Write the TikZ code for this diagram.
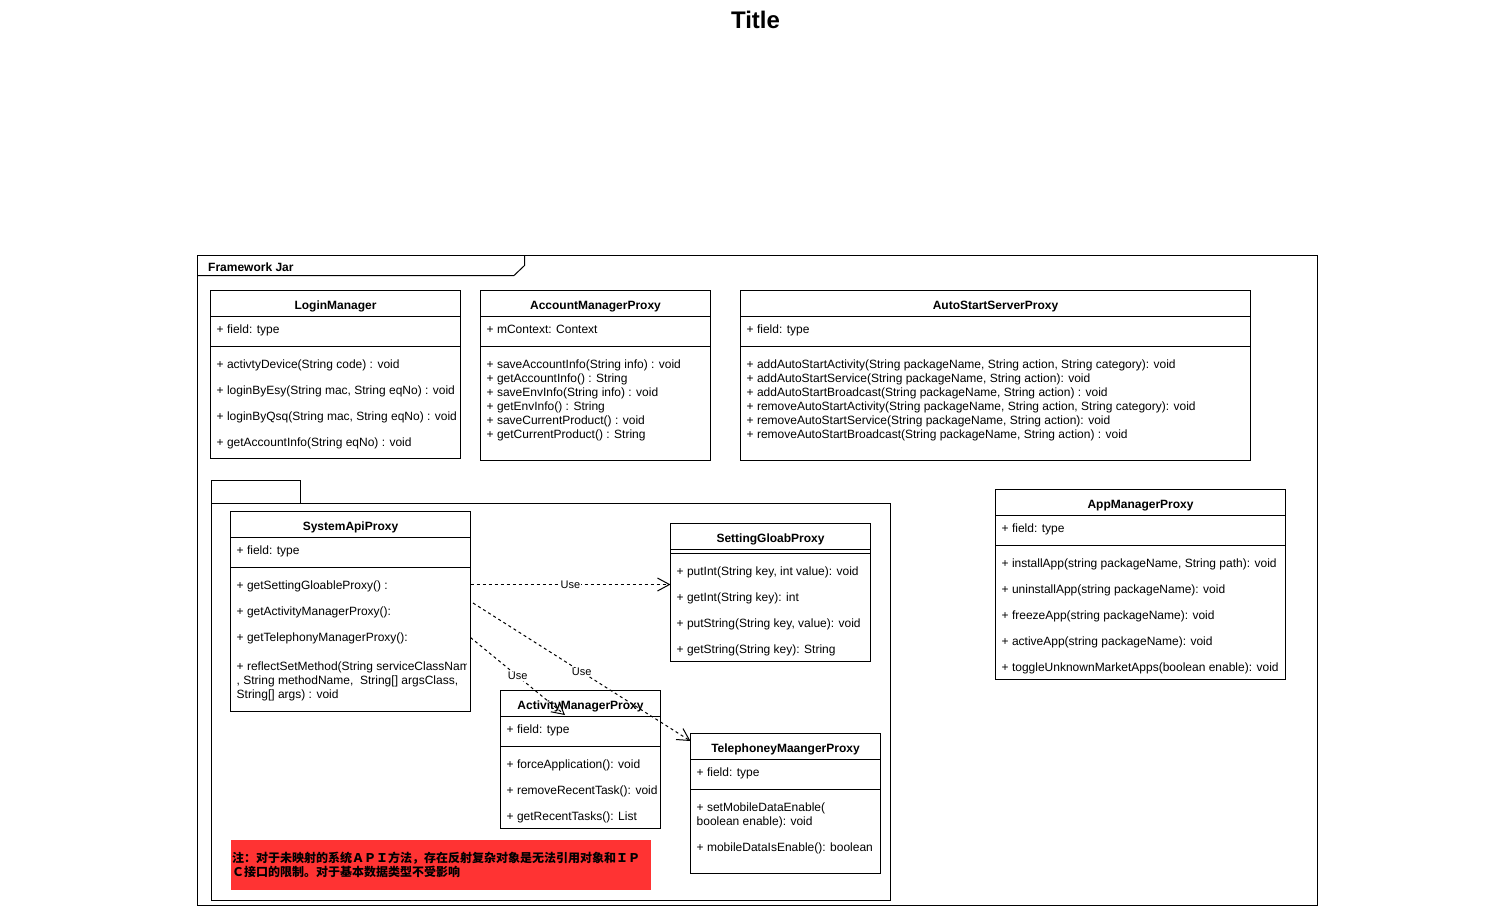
\documentclass[tikz,border=0pt]{standalone}
\usepackage{fontspec}
\setmainfont{Liberation Sans}
\newfontfamily\cjkfont{Noto Sans CJK SC}
\usetikzlibrary{arrows.meta,fit}

% class box: name, x1, y1, x2, y2, header line y, separator y, title
\newcommand\umlclass[8]{%
  \node[clsbox, fit={(#2,#3) (#4,#5)}] (#1) {};
  \draw[clsline] (#2,#6) -- (#4,#6);
  \draw[clsline] (#2,#7) -- (#4,#7);
  \node[clstitle] (#1-title) at ({(#2+#4)/2},{#3+18.5}) {#8};
}
% one member line: name, x, baseline y, text
\newcommand\umlmember[4]{\node[clsmember] (#1) at (#2,#3) {#4};}

\begin{document}
\begin{tikzpicture}[x=1pt,y=-1pt,
  clsbox/.style={draw=black, line width=1pt, inner sep=0pt, fill=white},
  clsline/.style={draw=black, line width=1pt},
  clstitle/.style={anchor=base, inner sep=0pt, font=\bfseries\fontsize{12}{14}\selectfont},
  clsmember/.style={anchor=base west, inner sep=0pt, font=\fontsize{12}{14}\selectfont},
  pkgbox/.style={draw=black, line width=1pt, inner sep=0pt},
  usearrow/.style={draw=black, line width=1pt, dash pattern=on 3pt off 3pt,
    -{Straight Barb[length=12pt,width=13pt,line width=1pt]}},
  uselabel/.style={fill=white, inner sep=0.5pt, font=\fontsize{11}{13}\selectfont},
]
\useasboundingbox (0,0) rectangle (1511,906);

% heading
\node[anchor=base, inner sep=0pt, font=\bfseries\fontsize{24}{28}\selectfont] (title) at (755.5,28) {Title};

% outer frame "Framework Jar"
\node[pkgbox, fit={(197.5,255.5) (1317.5,905.5)}] (framework) {};
\draw[clsline] (197.5,275.5) -- (514,275.5) -- (524.5,265.5) -- (524.5,255.5);
\node[anchor=base west, inner sep=0pt, font=\bfseries\fontsize{12}{14}\selectfont] (framework-label) at (208,271) {Framework Jar};

% inner package
\node[pkgbox, fit={(211.5,480.5) (300.5,503.5)}] (pkgtab) {};
\node[pkgbox, fit={(211.5,503.5) (890.5,900.5)}] (pkgbody) {};

% LoginManager
\umlclass{login}{210.5}{290.5}{460.5}{458.5}{316.5}{346.5}{LoginManager}
\umlmember{lm-f}{216.5}{333.5}{+ field: type}
\umlmember{lm-1}{216.5}{368}{+ activtyDevice(String code) : void}
\umlmember{lm-2}{216.5}{394}{+ loginByEsy(String mac, String eqNo) : void}
\umlmember{lm-3}{216.5}{420}{+ loginByQsq(String mac, String eqNo) : void}
\umlmember{lm-4}{216.5}{446}{+ getAccountInfo(String eqNo) : void}

% AccountManagerProxy
\umlclass{account}{480.5}{290.5}{710.5}{460.5}{316.5}{346.5}{AccountManagerProxy}
\umlmember{am-f}{486.5}{333.5}{+ mContext: Context}
\umlmember{am-1}{486.5}{368}{+ saveAccountInfo(String info) : void}
\umlmember{am-2}{486.5}{382}{+ getAccountInfo() : String}
\umlmember{am-3}{486.5}{396}{+ saveEnvInfo(String info) : void}
\umlmember{am-4}{486.5}{410}{+ getEnvInfo() : String}
\umlmember{am-5}{486.5}{424}{+ saveCurrentProduct() : void}
\umlmember{am-6}{486.5}{438}{+ getCurrentProduct() : String}

% AutoStartServerProxy
\umlclass{autostart}{740.5}{290.5}{1250.5}{460.5}{316.5}{346.5}{AutoStartServerProxy}
\umlmember{as-f}{746.5}{333.5}{+ field: type}
\umlmember{as-1}{746.5}{368}{+ addAutoStartActivity(String packageName, String action, String category): void}
\umlmember{as-2}{746.5}{382}{+ addAutoStartService(String packageName, String action): void}
\umlmember{as-3}{746.5}{396}{+ addAutoStartBroadcast(String packageName, String action) : void}
\umlmember{as-4}{746.5}{410}{+ removeAutoStartActivity(String packageName, String action, String category): void}
\umlmember{as-5}{746.5}{424}{+ removeAutoStartService(String packageName, String action): void}
\umlmember{as-6}{746.5}{438}{+ removeAutoStartBroadcast(String packageName, String action) : void}

% AppManagerProxy
\umlclass{appmgr}{995.5}{489.5}{1285.5}{679.5}{515.5}{545.5}{AppManagerProxy}
\umlmember{ap-f}{1001.5}{532.5}{+ field: type}
\umlmember{ap-1}{1001.5}{567}{+ installApp(string packageName, String path): void}
\umlmember{ap-2}{1001.5}{593}{+ uninstallApp(string packageName): void}
\umlmember{ap-3}{1001.5}{619}{+ freezeApp(string packageName): void}
\umlmember{ap-4}{1001.5}{645}{+ activeApp(string packageName): void}
\umlmember{ap-5}{1001.5}{671}{+ toggleUnknownMarketApps(boolean enable): void}

% SystemApiProxy
\umlclass{sysapi}{230.5}{511.5}{470.5}{711.5}{537.5}{567.5}{SystemApiProxy}
\umlmember{sa-f}{236.5}{554.5}{+ field: type}
\umlmember{sa-1}{236.5}{589}{+ getSettingGloableProxy() :}
\umlmember{sa-2}{236.5}{615}{+ getActivityManagerProxy():}
\umlmember{sa-3}{236.5}{641}{+ getTelephonyManagerProxy():}
\begin{scope}
  \clip (231,650) rectangle (466.5,711);
  \umlmember{sa-4a}{236.5}{670.5}{+ reflectSetMethod(String serviceClassName}
\end{scope}
\umlmember{sa-4b}{236.5}{684.5}{, String methodName, \ String[] argsClass,}
\umlmember{sa-4c}{236.5}{698.5}{String[] args) : void}

% SettingGloabProxy
\umlclass{setting}{670.5}{523.5}{870.5}{661.5}{549.5}{553.5}{SettingGloabProxy}
\umlmember{sg-1}{676.5}{575}{+ putInt(String key, int value): void}
\umlmember{sg-2}{676.5}{601}{+ getInt(String key): int}
\umlmember{sg-3}{676.5}{627}{+ putString(String key, value): void}
\umlmember{sg-4}{676.5}{653}{+ getString(String key): String}

% ActivityManagerProxy
\umlclass{activity}{500.5}{690.5}{660.5}{828.5}{716.5}{746.5}{ActivityManagerProxy}
\umlmember{ac-f}{506.5}{733.5}{+ field: type}
\umlmember{ac-1}{506.5}{768}{+ forceApplication(): void}
\umlmember{ac-2}{506.5}{794}{+ removeRecentTask(): void}
\umlmember{ac-3}{506.5}{820}{+ getRecentTasks(): List}

% TelephoneyMaangerProxy
\umlclass{tele}{690.5}{733.5}{880.5}{873.5}{759.5}{789.5}{TelephoneyMaangerProxy}
\umlmember{tp-f}{696.5}{776.5}{+ field: type}
\umlmember{tp-1a}{696.5}{811}{+ setMobileDataEnable(}
\umlmember{tp-1b}{696.5}{825}{boolean enable): void}
\umlmember{tp-2}{696.5}{851}{+ mobileDataIsEnable(): boolean}

% note
\node[fill={rgb,255:red,255;green,51;blue,51}, inner sep=0pt, fit={(231,840) (651,890)}] (note) {};
\node[anchor=base west, inner sep=0pt, font=\cjkfont\bfseries\fontsize{12}{14}\selectfont] (note-l1) at (232,862.5)
  {注：对于未映射的系统ＡＰＩ方法，存在反射复杂对象是无法引用对象和ＩＰ};
\node[anchor=base west, inner sep=0pt, font=\cjkfont\bfseries\fontsize{12}{14}\selectfont] (note-l2) at (232,876.5)
  {Ｃ接口的限制。对于基本数据类型不受影响};

% dependency connectors
\coordinate (u1s) at (470.5,584.5);
\coordinate (u1e) at (670.5,584.5);
\coordinate (u2s) at (473,603);
\coordinate (u2e) at (690.5,741);
\coordinate (u3s) at (470.5,637.5);
\coordinate (u3e) at (565,715);
\draw[usearrow] (u1s) -- node[uselabel] (use1) {Use} (u1e);
\draw[usearrow] (u2s) -- node[uselabel] (use2) {Use} (u2e);
\draw[usearrow] (u3s) -- node[uselabel] (use3) {Use} (u3e);
\end{tikzpicture}
\end{document}
